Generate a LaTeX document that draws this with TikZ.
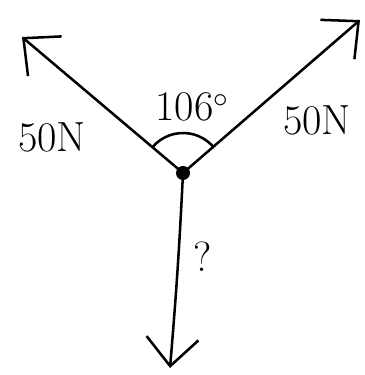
\documentclass[tikz,border=0pt]{standalone}
\usepackage{tikz}
\usetikzlibrary{arrows.meta,calc}
\tikzset{
  force/.style={-{Straight Barb[length=7mm,width=13mm,line width=1.8pt]}, line width=1.8pt, line cap=round},
  lbl/.style={font=\fontsize{30}{30}\selectfont, inner sep=0pt},
  joint/.style={circle, fill=black, inner sep=0pt, minimum size=3.5mm},
}
\begin{document}
\begin{tikzpicture}[x=0.025cm, y=0.025cm]
\useasboundingbox (0,0) rectangle (365,375);

\node[joint] (pt) at (183,202) {};
\coordinate (left) at (22,338);
\coordinate (right) at (360,355);
\coordinate (down) at (170,7);

\draw[force] (pt.center) -- (left);
\draw[force] (pt.center) -- (right);
\draw[force] (pt.center) to[bend left=1] (down);

% angle between the two 50N forces
\draw[line width=1.8pt] ($(pt.center)+(140:40)$) arc[start angle=140, end angle=40, radius=40];

\node[lbl] (fl) at (52,238) {50N};
\node[lbl] (fr) at (317,255) {50N};
\node[lbl] (ang) at (192,268) {106$^{\circ}$};
\node[lbl] (q) at (203,118) {?};

\end{tikzpicture}
\end{document}
